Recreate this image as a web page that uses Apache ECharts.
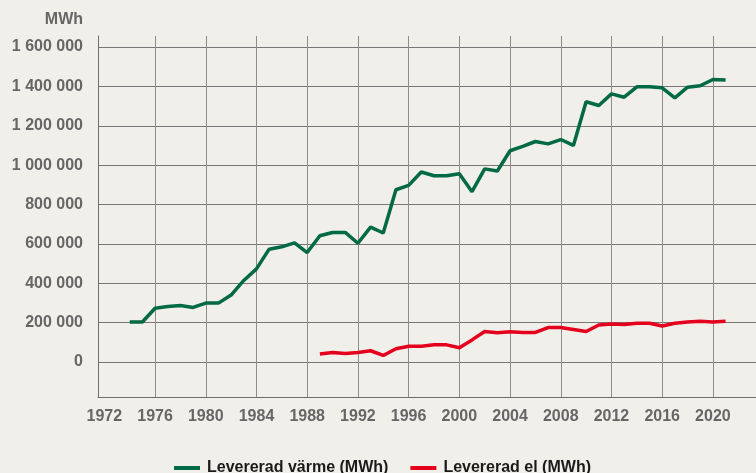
<!DOCTYPE html>
<html>
<head>
<meta charset="utf-8">
<script src="https://cdn.jsdelivr.net/npm/echarts@6/dist/echarts.min.js"></script>
<style>
  html, body { margin: 0; padding: 0; background: #f1efea; }
  #chart { width: 756px; height: 473px; }
</style>
</head>
<body>
<div id="chart"></div>
<script>
// år och värden (MWh)
var yearsHeat = [1974, 1975, 1976, 1977, 1978, 1979, 1980, 1981, 1982, 1983, 1984, 1985, 1986, 1987, 1988,
  1989, 1990, 1991, 1992, 1993, 1994, 1995, 1996, 1997, 1998, 1999, 2000, 2001, 2002, 2003, 2004,
  2005, 2006, 2007, 2008, 2009, 2010, 2011, 2012, 2013, 2014, 2015, 2016, 2017, 2018, 2019, 2020, 2021];
var heat = [203000, 203000, 273000, 282000, 287000, 277000, 299000, 299000, 340000, 414000, 473000, 573000, 585000, 605000, 556000,
  641000, 658000, 658000, 603000, 685000, 655000, 875000, 897000, 965000, 946000, 946000, 956000, 865000, 981000, 970000, 1073000,
  1095000, 1120000, 1108000, 1130000, 1100000, 1322000, 1303000, 1362000, 1345000, 1398000, 1398000, 1393000, 1342000, 1396000, 1403000, 1435000, 1432000];

var yearsEl = [1989, 1990, 1991, 1992, 1993, 1994, 1995, 1996, 1997, 1998, 1999, 2000, 2001, 2002, 2003, 2004,
  2005, 2006, 2007, 2008, 2009, 2010, 2011, 2012, 2013, 2014, 2015, 2016, 2017, 2018, 2019, 2020, 2021];
var el = [40000, 48000, 43000, 48000, 57000, 33000, 67000, 80000, 80000, 87000, 87000, 72000, 112000, 155000, 148000, 154000,
  150000, 150000, 175000, 175000, 165000, 155000, 188000, 193000, 190000, 197000, 197000, 183000, 197000, 203000, 207000, 203000, 207000];

var yTicks = [0, 200000, 400000, 600000, 800000, 1000000, 1200000, 1400000, 1600000];
var xLabels = [1972, 1976, 1980, 1984, 1988, 1992, 1996, 2000, 2004, 2008, 2012, 2016, 2020];
var xGrid = [1976, 1980, 1984, 1988, 1992, 1996, 2000, 2004, 2008, 2012, 2016, 2020];

function pairs(xs, ys) {
  var out = [];
  for (var i = 0; i < xs.length; i++) out.push([xs[i], ys[i]]);
  return out;
}

function fmt(v) {
  return String(v).replace(/\B(?=(\d{3})+(?!\d))/g, ' ');
}

var chart = echarts.init(document.getElementById('chart'));
var font = 'Liberation Sans, Arial, sans-serif';

chart.setOption({
  backgroundColor: '#f1efea',
  animation: false,
  grid: { left: 98, right: 0, top: 36, bottom: 76 },
  legend: {
    top: 455,
    left: 169,
    itemWidth: 26,
    itemHeight: 4,
    itemGap: 22,
    icon: 'rect',
    textStyle: { fontFamily: font, fontWeight: 'bold', fontSize: 16, color: '#1a1a1a', padding: [0, 0, 0, 2] },
    data: ['Levererad värme (MWh)', 'Levererad el (MWh)']
  },
  xAxis: {
    type: 'value',
    min: 1971.5,
    max: 2023.4,
    axisLine: { show: true, onZero: false, lineStyle: { color: '#6e6e6e', width: 1 } },
    axisTick: { show: false, customValues: xGrid },
    axisLabel: {
      customValues: xLabels,
      margin: 12,
      fontFamily: font, fontWeight: 'bold', fontSize: 16, color: '#666666',
      formatter: function (v) { return String(v); }
    },
    splitLine: { show: true, lineStyle: { color: '#8c8c8c', width: 1 } }
  },
  yAxis: {
    type: 'value',
    min: -178000,
    max: 1656000,
    name: 'MWh',
    nameLocation: 'end',
    nameGap: 16,
    nameTextStyle: {
      fontFamily: font, fontWeight: 'bold', fontSize: 16, color: '#666666',
      align: 'right', verticalAlign: 'middle', padding: [0, 15, 0, 0]
    },
    axisLine: { show: true, onZero: false, lineStyle: { color: '#6e6e6e', width: 1 } },
    axisTick: { show: false, customValues: yTicks },
    axisLabel: {
      customValues: yTicks,
      margin: 15,
      fontFamily: font, fontWeight: 'bold', fontSize: 16, color: '#666666',
      formatter: fmt
    },
    splitLine: { show: true, lineStyle: { color: '#777777', width: 1 } }
  },
  series: [{
    name: 'Levererad värme (MWh)',
    type: 'line',
    data: pairs(yearsHeat, heat),
    symbol: 'none',
    color: '#006a45',
    lineStyle: { width: 3.5, color: '#006a45' }
  }, {
    name: 'Levererad el (MWh)',
    type: 'line',
    data: pairs(yearsEl, el),
    symbol: 'none',
    color: '#e4001c',
    lineStyle: { width: 3.5, color: '#e4001c' }
  }]
});
</script>
</body>
</html>
